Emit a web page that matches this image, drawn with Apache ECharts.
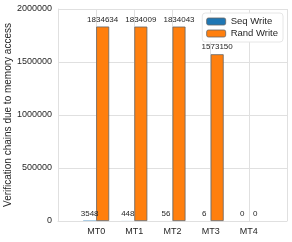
<!DOCTYPE html>
<html><head><meta charset="utf-8">
<script src="https://cdn.jsdelivr.net/npm/echarts@6/dist/echarts.min.js"></script>
<style>html,body{margin:0;padding:0;background:#fff}#c{width:292px;height:242px}</style>
</head><body><div id="c"></div>
<script>
var categories = ['', 'MT0', 'MT1', 'MT2', 'MT3', 'MT4', ''];
var seqWrite = [null, 3548, 448, 56, 6, 0, null];
var randWrite = [null, 1834634, 1834009, 1834043, 1573150, 0, null];
var yTicks = [0, 500000, 1000000, 1500000, 2000000];

function noBorderZero(arr) {
  return arr.map(function (v) { return v === 0 ? {value: v, itemStyle: {borderWidth: 0}} : v; });
}

var chart = echarts.init(document.getElementById('c'));
var font = 'Liberation Sans, Arial, sans-serif';
var labelCfg = {show: true, position: 'top', distance: 3, fontSize: 8, color: '#262626', fontFamily: font};
chart.setOption({
  animation: false,
  grid: {left: 58, right: 5, top: 9, bottom: 21, containLabel: false, outerBoundsMode: 'none'},
  legend: {
    right: 9, top: 13, orient: 'vertical', itemWidth: 19, itemHeight: 7, itemGap: 1,
    padding: [3, 5, 3, 4], backgroundColor: '#fff', borderColor: '#e6e6e6', borderWidth: 1, borderRadius: 3,
    textStyle: {fontSize: 9.5, lineHeight: 11, color: '#262626', fontFamily: font},
    data: [{name: 'Seq Write', itemStyle: {borderColor: '#666', borderWidth: 0.8}}, {name: 'Rand Write', itemStyle: {borderColor: '#666', borderWidth: 0.8}}]
  },
  xAxis: {
    type: 'category', data: categories, boundaryGap: false,
    axisLine: {show: true, lineStyle: {color: '#e0e0e0'}}, axisTick: {show: false},
    axisLabel: {fontSize: 9, color: '#262626', fontFamily: font, margin: 6, interval: 0},
    splitLine: {show: true, lineStyle: {color: '#e0e0e0', width: 1}}
  },
  yAxis: {
    type: 'value', min: yTicks[0], max: yTicks[yTicks.length - 1], interval: yTicks[1] - yTicks[0],
    name: 'Verification chains due to memory access', nameLocation: 'middle', nameGap: 45, nameMoveOverlap: false,
    nameTextStyle: {fontSize: 10, color: '#262626', fontFamily: font},
    axisLine: {show: true, lineStyle: {color: '#e0e0e0'}}, axisTick: {show: false},
    axisLabel: {fontSize: 9, color: '#262626', fontFamily: font, margin: 6, formatter: function (v) { return String(v); }},
    splitLine: {show: true, lineStyle: {color: '#e0e0e0', width: 1}}
  },
  series: [
    {name: 'Seq Write', type: 'bar', data: seqWrite, barWidth: 13, barGap: '0%',
     itemStyle: {color: '#1f77b4', borderWidth: 0}, label: labelCfg},
    {name: 'Rand Write', type: 'bar', data: noBorderZero(randWrite), barWidth: 13, barGap: '0%',
     itemStyle: {color: '#ff7f0e', borderColor: '#666', borderWidth: 0.8}, label: labelCfg}
  ]
});
</script></body></html>
